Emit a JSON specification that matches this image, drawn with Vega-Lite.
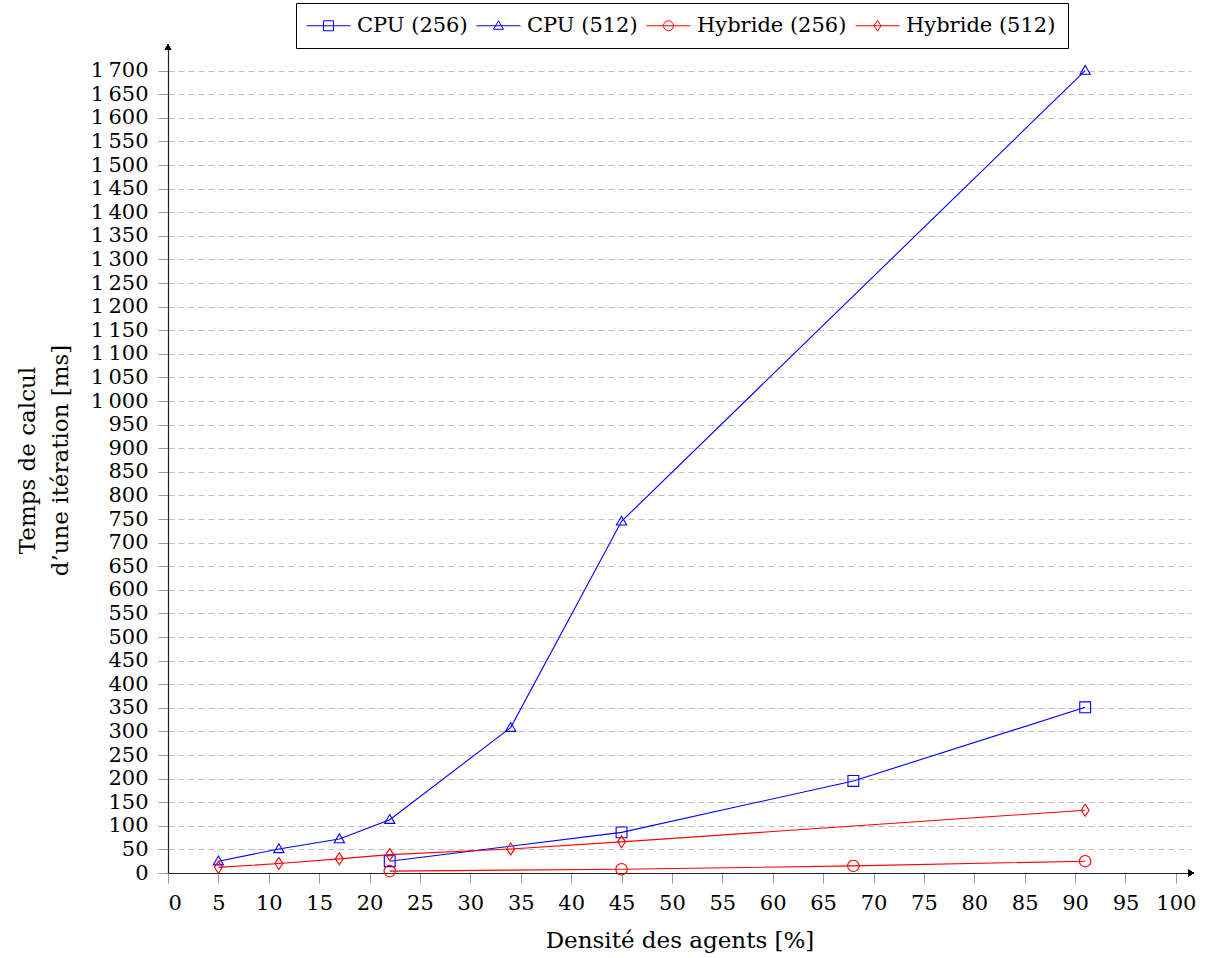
{
  "$schema": "https://vega.github.io/schema/vega-lite/v6.json",
  "width": 1023,
  "height": 826,
  "autosize": {"type": "none"},
  "padding": {"left": 168, "top": 47, "right": 17, "bottom": 85},
  "background": "white",
  "config": {
    "font": "DejaVu Serif",
    "view": {"stroke": null},
    "axis": {
      "labelFont": "DejaVu Serif",
      "titleFont": "DejaVu Serif",
      "labelFontSize": 21,
      "titleFontSize": 23,
      "titleFontWeight": "normal",
      "labelColor": "black",
      "titleColor": "black",
      "domainColor": "#222222",
      "domainWidth": 1.2,
      "tickColor": "#999999",
      "tickSize": 10,
      "tickWidth": 1
    },
    "legend": {
      "labelFont": "DejaVu Serif",
      "labelFontSize": 21,
      "labelColor": "black"
    }
  },
  "data": {
    "values": [
      {"serie": "CPU (256)", "densite": 22, "temps": 25},
      {"serie": "CPU (256)", "densite": 45, "temps": 86},
      {"serie": "CPU (256)", "densite": 68, "temps": 195},
      {"serie": "CPU (256)", "densite": 91, "temps": 351},
      {"serie": "CPU (512)", "densite": 5, "temps": 25},
      {"serie": "CPU (512)", "densite": 11, "temps": 51},
      {"serie": "CPU (512)", "densite": 17, "temps": 72},
      {"serie": "CPU (512)", "densite": 22, "temps": 113},
      {"serie": "CPU (512)", "densite": 34, "temps": 308},
      {"serie": "CPU (512)", "densite": 45, "temps": 745},
      {"serie": "CPU (512)", "densite": 91, "temps": 1700},
      {"serie": "Hybride (256)", "densite": 22, "temps": 4},
      {"serie": "Hybride (256)", "densite": 45, "temps": 8},
      {"serie": "Hybride (256)", "densite": 68, "temps": 15},
      {"serie": "Hybride (256)", "densite": 91, "temps": 25},
      {"serie": "Hybride (512)", "densite": 5, "temps": 12},
      {"serie": "Hybride (512)", "densite": 11, "temps": 20},
      {"serie": "Hybride (512)", "densite": 17, "temps": 30},
      {"serie": "Hybride (512)", "densite": 22, "temps": 39},
      {"serie": "Hybride (512)", "densite": 34, "temps": 51},
      {"serie": "Hybride (512)", "densite": 45, "temps": 66},
      {"serie": "Hybride (512)", "densite": 91, "temps": 133}
    ]
  },
  "encoding": {
    "x": {
      "field": "densite",
      "type": "quantitative",
      "scale": {"domain": [0, 101.5], "nice": false},
      "axis": {
        "title": "Densité des agents [%]",
        "values": [0,5,10,15,20,25,30,35,40,45,50,55,60,65,70,75,80,85,90,95,100],
        "grid": false,
        "labelPadding": 9,
        "titlePadding": 16
      }
    },
    "y": {
      "field": "temps",
      "type": "quantitative",
      "scale": {"domain": [0, 1750], "nice": false},
      "axis": {
        "title": ["Temps de calcul", "d’une itération [ms]"],
        "titleLineHeight": 33,
        "values": [0,50,100,150,200,250,300,350,400,450,500,550,600,650,700,750,800,850,900,950,1000,1050,1100,1150,1200,1250,1300,1350,1400,1450,1500,1550,1600,1650,1700],
        "labelExpr": "replace(format(datum.value, ',d'), ',', '\u2009')",
        "grid": true,
        "gridColor": "#bdbdbd",
        "gridDash": [6, 4],
        "gridWidth": 1,
        "labelPadding": 10,
        "titlePadding": 18
      }
    },
    "color": {
      "field": "serie",
      "type": "nominal",
      "scale": {
        "domain": ["CPU (256)", "CPU (512)", "Hybride (256)", "Hybride (512)"],
        "range": ["#0000ff", "#0000ff", "#ff0000", "#ff0000"]
      },
      "legend": {
        "title": null,
        "orient": "none",
        "legendX": 128,
        "legendY": -44,
        "direction": "horizontal",
        "strokeColor": "black",
        "fillColor": "white",
        "padding": 12,
        "symbolSize": 400,
        "symbolStrokeWidth": 1,
        "symbolOpacity": 1,
        "symbolFillColor": "transparent",
        "symbolOffset": 10,
        "labelOffset": 18,
        "columnPadding": 6,
        "labelLimit": 0
      }
    }
  },
  "layer": [
    {
      "mark": {"type": "line", "strokeWidth": 1.1}
    },
    {
      "mark": {"type": "point", "filled": false, "size": 130, "strokeWidth": 1.1, "opacity": 1},
      "encoding": {
        "shape": {
          "condition": [
            {"test": "datum.serie === 'CPU (256)'", "value": "M-0.95,-0.95H0.95V0.95H-0.95Z"},
            {"test": "datum.serie === 'CPU (512)'", "value": "M0,-0.9L0.9,0.65L-0.9,0.65Z"},
            {"test": "datum.serie === 'Hybride (256)'", "value": "M1,0A1,1,0,1,1,-1,0A1,1,0,1,1,1,0Z"}
          ],
          "value": "M0,-1.05L0.7,0L0,1.05L-0.7,0Z"
        }
      }
    },
    {
      "mark": {"type": "point", "filled": false, "size": 130, "strokeWidth": 1, "opacity": 0},
      "encoding": {
        "shape": {
          "field": "serie",
          "type": "nominal",
          "scale": {
            "domain": ["CPU (256)", "CPU (512)", "Hybride (256)", "Hybride (512)"],
            "range": [
              "M-2.2,0H2.2M-0.5,-0.5H0.5V0.5H-0.5Z",
              "M-2.2,0H2.2M0,-0.5L0.5,0.35L-0.5,0.35Z",
              "M-2.2,0H2.2M0.5,0A0.5,0.5,0,1,1,-0.5,0A0.5,0.5,0,1,1,0.5,0Z",
              "M-2.2,0H2.2M0,-0.55L0.35,0L0,0.55L-0.35,0Z"
            ]
          }
        }
      }
    },
    {
      "mark": {"type": "point", "shape": "triangle-right", "filled": true, "color": "black", "size": 40, "opacity": 1},
      "encoding": {"x": {"datum": 101.5}, "y": {"datum": 0}, "color": {"value": "black"}}
    },
    {
      "mark": {"type": "point", "shape": "triangle-up", "filled": true, "color": "black", "size": 40, "opacity": 1},
      "encoding": {"x": {"datum": 0}, "y": {"datum": 1750}, "color": {"value": "black"}}
    }
  ]
}
